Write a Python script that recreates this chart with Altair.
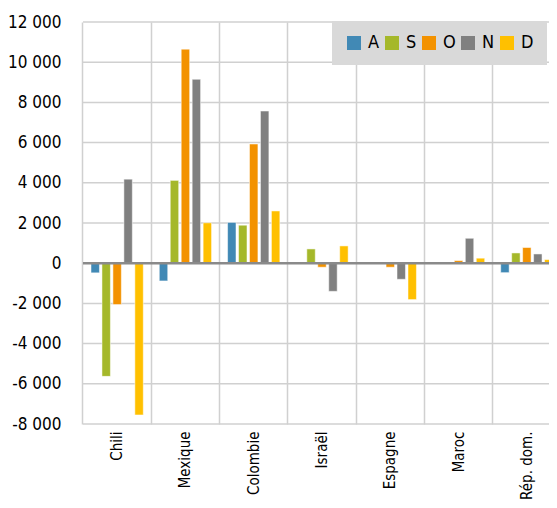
import altair as alt
import pandas as pd

countries = ["Chili", "Mexique", "Colombie", "Israël", "Espagne", "Maroc", "Rép. dom."]
series = ["A", "S", "O", "N", "D"]
vals_A = [-480, -880, 2030, 40, 0, -10, -470]
vals_S = [-5630, 4120, 1890, 710, 0, -30, 510]
vals_O = [-2060, 10650, 5930, -200, -200, 130, 780]
vals_N = [4180, 9150, 7570, -1400, -800, 1240, 460]
vals_D = [-7550, 2010, 2600, 860, -1810, 250, 180]
colors = ["#4189b5", "#a5b82a", "#f39200", "#808080", "#ffc000"]
y_ticks = [-8000, -6000, -4000, -2000, 0, 2000, 4000, 6000, 8000, 10000, 12000]

rows = []
for s, vals in zip(series, [vals_A, vals_S, vals_O, vals_N, vals_D]):
    for c, v in zip(countries, vals):
        rows.append({"pays": c, "mois": s, "valeur": v})
df = pd.DataFrame(rows)

FONT = "DejaVu Sans Condensed"

label_expr = "(datum.value < 0 ? '-' : '') + replace(format(abs(datum.value), ','), ',', ' ')"

yscale = alt.Scale(domain=[-8000, 12000], nice=False, zero=False)

grid = alt.Chart(pd.DataFrame({"v": y_ticks})).mark_rule(color="#d0d0d0", strokeWidth=1.5).encode(
    y=alt.Y("v:Q", scale=yscale,
            axis=alt.Axis(title=None, values=y_ticks, labelExpr=label_expr, ticks=False,
                          domain=False, grid=False, labelPadding=22, labelFontSize=17,
                          labelFont=FONT, labelColor="#000000")),
    x=alt.value(0), x2=alt.value(474),
)

bars = alt.Chart(df).mark_bar(stroke="white", strokeWidth=0.5).encode(
    x=alt.X("pays:N", sort=countries,
            scale=alt.Scale(domain=countries, range=[0, 478], paddingInner=0, paddingOuter=0),
            axis=alt.Axis(title=None, labelAngle=-90, labelAlign="right", labelBaseline="middle",
                          labelPadding=7, ticks=False, domain=False, grid=True, bandPosition=0,
                          gridColor="#d0d0d0", gridWidth=1.5, labelFontSize=15, labelFont=FONT,
                          labelColor="#000000")),
    xOffset=alt.XOffset("mois:N", sort=series,
                        scale=alt.Scale(domain=series, paddingInner=0.23, paddingOuter=0.73)),
    y=alt.Y("valeur:Q", scale=yscale),
    color=alt.Color("mois:N", sort=series,
                    scale=alt.Scale(domain=series, range=colors),
                    legend=alt.Legend(title=None, orient="none", legendX=249, legendY=-1,
                                      direction="horizontal", fillColor="#d9d9d9", padding=13,
                                      symbolType="square", symbolSize=196, symbolStrokeWidth=0,
                                      labelFontSize=18, labelFont=FONT, labelColor="#000000",
                                      labelOffset=5, columnPadding=3)),
)

zero = alt.Chart(pd.DataFrame({"z": [0]})).mark_rule(color="#8a8a8a", strokeWidth=2.5).encode(
    y=alt.Y("z:Q", scale=yscale), x=alt.value(0), x2=alt.value(474)
)

chart = alt.layer(grid, bars, zero).properties(
    width=466, height=402,
    autosize=alt.AutoSizeParams(type="none"),
    padding={"left": 75, "top": 14, "right": 0, "bottom": 76},
).configure_view(stroke=None)

chart.save("out.html", embed_options={"renderer": "svg", "actions": False})
